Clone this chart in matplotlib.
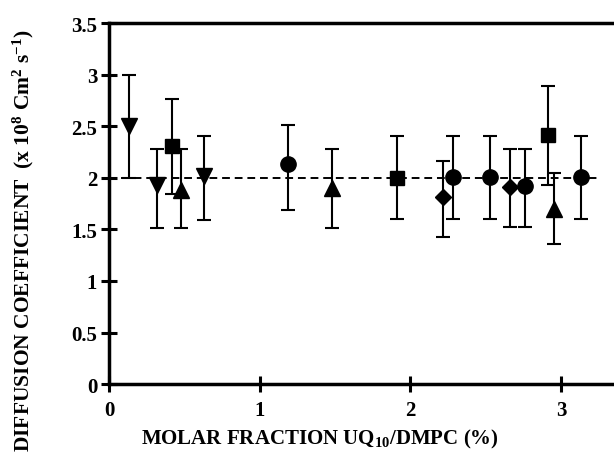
import numpy as np
import matplotlib.pyplot as plt

# data, grouped by marker
tri_down_x = [0.13, 0.32, 0.63]
tri_down_y = [2.50, 1.93, 2.02]
tri_down_lo = [2.00, 1.51, 1.59]
tri_down_hi = [3.00, 2.28, 2.41]

square_x = [0.42, 1.91, 2.91]
square_y = [2.31, 2.00, 2.42]
square_lo = [1.84, 1.60, 1.93]
square_hi = [2.76, 2.41, 2.89]

tri_up_x = [0.48, 1.48, 2.95]
tri_up_y = [1.88, 1.90, 1.70]
tri_up_lo = [1.51, 1.51, 1.36]
tri_up_hi = [2.28, 2.28, 2.05]

circle_x = [1.19, 2.28, 2.53, 2.76, 3.13]
circle_y = [2.13, 2.01, 2.01, 1.92, 2.01]
circle_lo = [1.69, 1.60, 1.60, 1.52, 1.60]
circle_hi = [2.51, 2.41, 2.41, 2.28, 2.41]

diamond_x = [2.215, 2.66]
diamond_y = [1.81, 1.91]
diamond_lo = [1.43, 1.52]
diamond_hi = [2.16, 2.28]

mean_value = 2.0
mean_span = [0.08, 3.25]

plt.rcParams["font.family"] = "Liberation Serif"
plt.rcParams["font.weight"] = "bold"
plt.rcParams["mathtext.default"] = "regular"

fig = plt.figure(figsize=(6.14, 4.64), dpi=100)
ax = fig.add_axes([0.1775, 0.170, 0.8225, 0.778])

groups = [
    (tri_down_x, tri_down_y, tri_down_lo, tri_down_hi, "v", 12),
    (square_x, square_y, square_lo, square_hi, "s", 10),
    (tri_up_x, tri_up_y, tri_up_lo, tri_up_hi, "^", 12),
    (circle_x, circle_y, circle_lo, circle_hi, "o", 11),
    (diamond_x, diamond_y, diamond_lo, diamond_hi, "D", 8),
]

# dashed mean line
ax.plot(mean_span, [mean_value, mean_value], color="black", linestyle=(0, (4, 2.5)),
        linewidth=1.4, zorder=1)

for xs, ys, lo, hi, mk, ms in groups:
    ys = np.array(ys)
    yerr = np.vstack([ys - np.array(lo), np.array(hi) - ys])
    ax.errorbar(xs, ys, yerr=yerr, fmt=mk, color="black", markersize=ms,
                ecolor="black", elinewidth=1.5, capsize=5, capthick=1.5, zorder=3)

ax.set_xlim(0, 3.35)
ax.set_ylim(0, 3.5)
ax.set_xticks([0, 1, 2, 3])
ax.set_yticks([0, 0.5, 1, 1.5, 2, 2.5, 3, 3.5])
ax.set_xticklabels(["0", "1", "2", "3"])
ax.set_yticklabels(["0", "0.5", "1", "1.5", "2", "2.5", "3", "3.5"])

for side in ["left", "bottom", "top"]:
    ax.spines[side].set_linewidth(2.5)
ax.spines["right"].set_visible(False)

ax.tick_params(axis="both", direction="inout", length=11, width=2.2,
               labelsize=15, pad=6)
ax.tick_params(axis="y", pad=3)

ax.set_xlabel("MOLAR FRACTION UQ$_{10}$/DMPC (%)", fontsize=15, fontweight="bold")
ax.set_ylabel("DIFFUSION COEFFICIENT  (x 10$^{8}$ Cm$^{2}$ s$^{-1}$)", fontsize=15.5,
              fontweight="bold")
ax.xaxis.set_label_coords(0.418, -0.12)
ax.yaxis.set_label_coords(-0.145, 0.40)

plt.savefig("out.png", dpi=100)
